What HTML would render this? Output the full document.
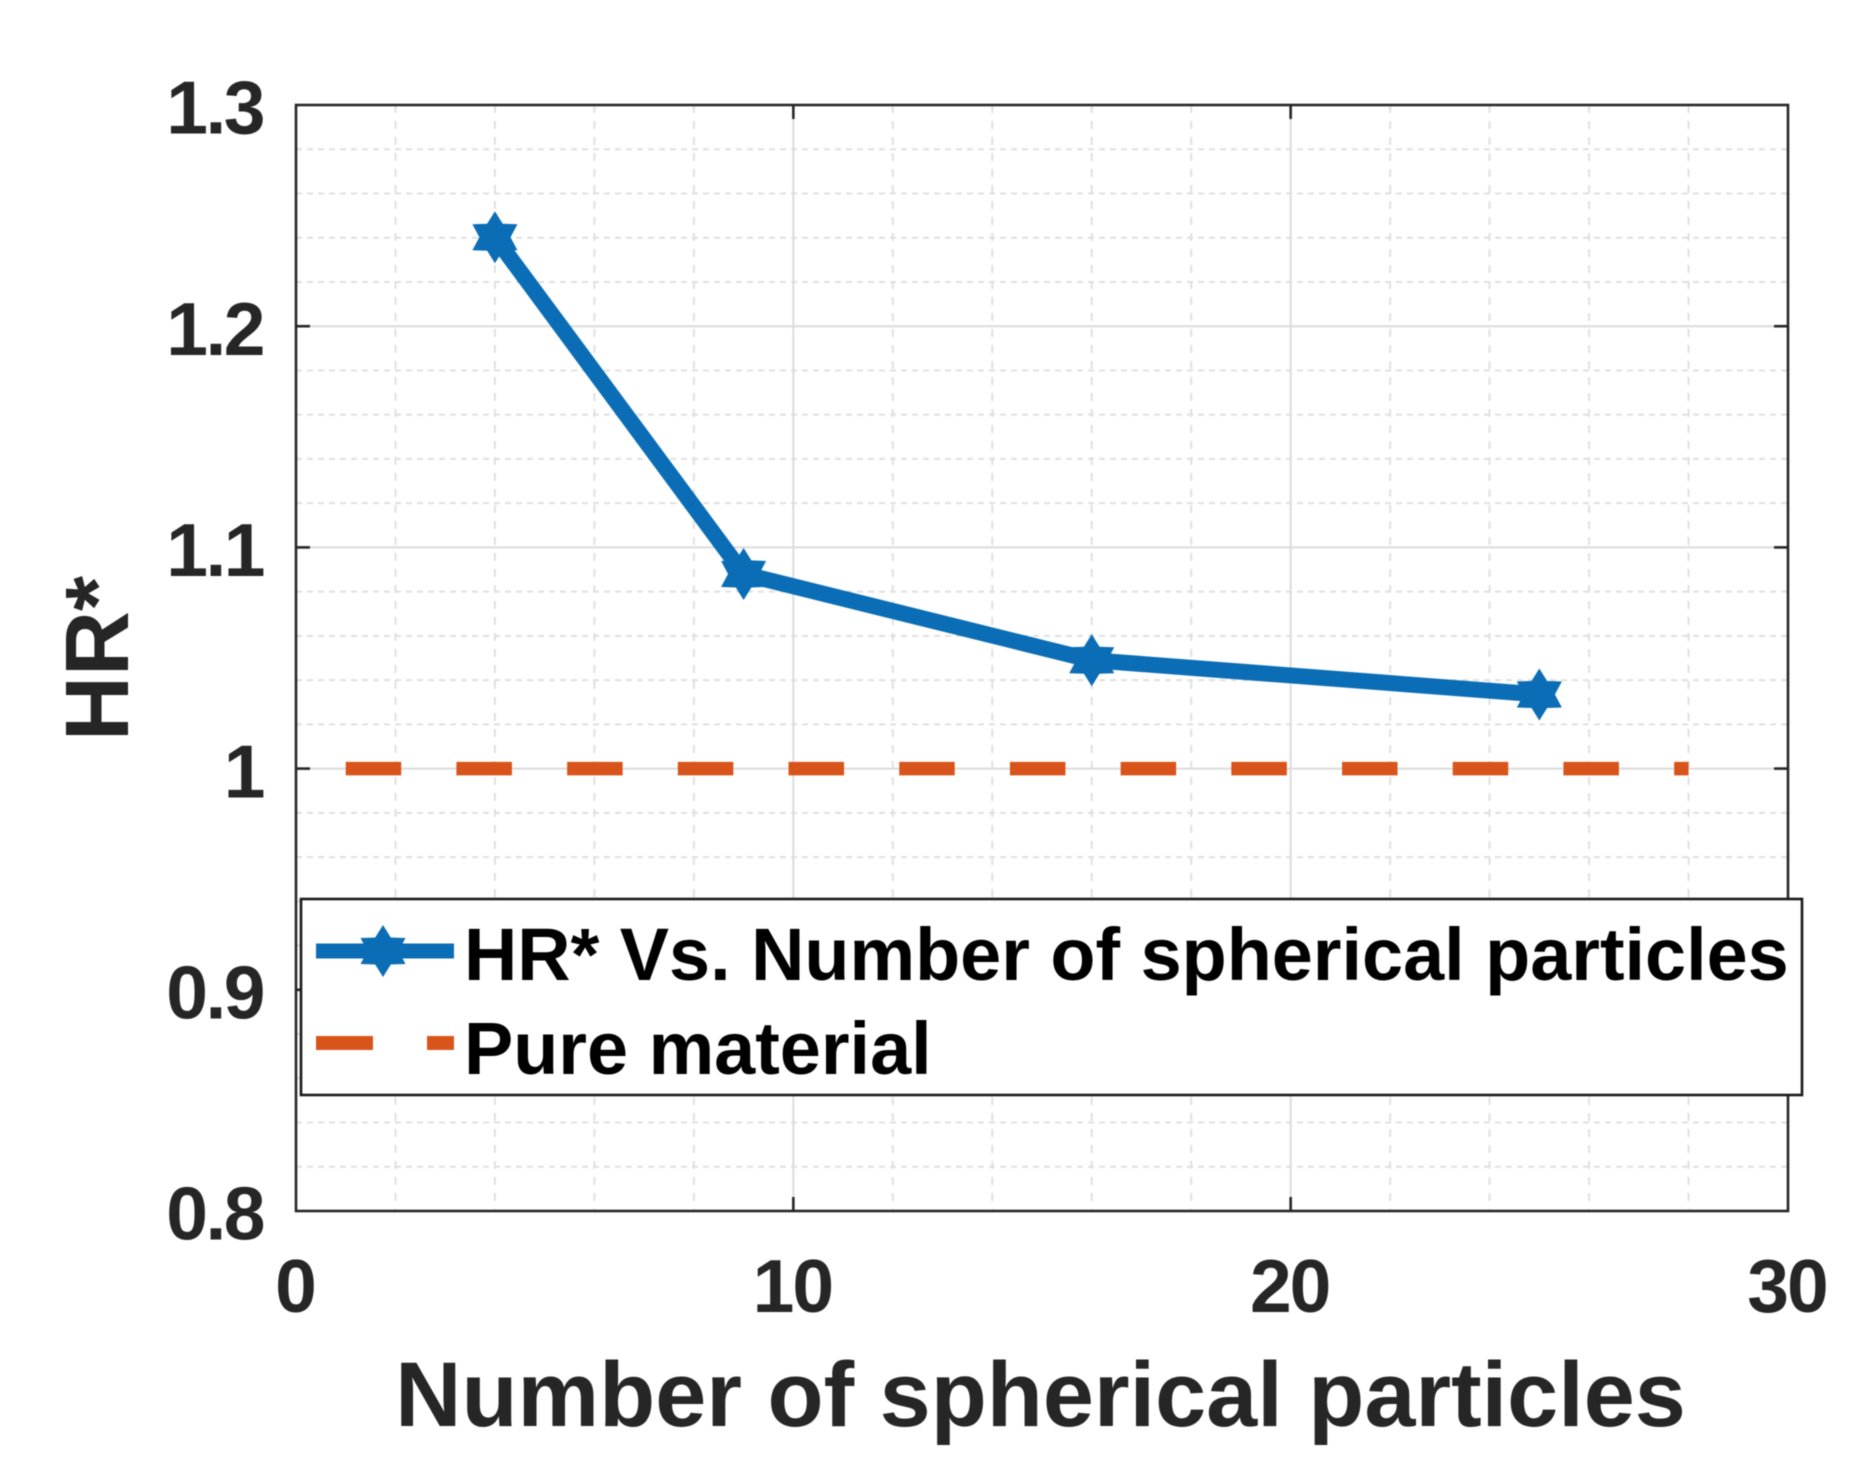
<!DOCTYPE html>
<html lang="en">
<head>
<meta charset="utf-8">
<title>HR* vs number of spherical particles</title>
<style>
html,body{margin:0;padding:0;background:#fff;}
svg{display:block;font-family:"Liberation Sans",Arial,sans-serif;font-weight:bold;filter:blur(0.5px);}
</style>
</head>
<body>
<svg id="chart" xmlns="http://www.w3.org/2000/svg" width="1866" height="1479" viewBox="0 0 1866 1479">
  <rect x="0" y="0" width="1866" height="1479" fill="#ffffff"/>
  <g id="grid"></g>
  <g id="series"></g>
  <g id="frame"></g>
  <g id="labels"></g>
  <text x="1040.5" y="1426" font-size="91.8" fill="#262626" text-anchor="middle">Number of spherical particles</text>
  <text transform="translate(128,658.5) rotate(-90)" font-size="90" fill="#262626" text-anchor="middle">HR*</text>
  <g id="legend"></g>
</svg>
<script>
const particleCounts = [4, 9, 16, 25];
const hrValues = [1.2402, 1.088, 1.049, 1.0335];
const pureX = [1, 28];
const pureY = [1, 1];
const xTickValues = [0, 10, 20, 30];
const xTickLabels = ["0", "10", "20", "30"];
const yTickValues = [0.8, 0.9, 1.0, 1.1, 1.2, 1.3];
const yTickLabels = ["0.8", "0.9", "1", "1.1", "1.2", "1.3"];
const xMinorValues = [2, 4, 6, 8, 12, 14, 16, 18, 22, 24, 26, 28];
const yMinorValues = [0.82, 0.84, 0.86, 0.88, 0.92, 0.94, 0.96, 0.98, 1.02, 1.04, 1.06, 1.08, 1.12, 1.14, 1.16, 1.18, 1.22, 1.24, 1.26, 1.28];
const legendLabels = ["HR* Vs. Number of spherical particles", "Pure material"];

const plot = {left: 296, right: 1788, top: 105, bottom: 1211};
const xDomain = [0, 30];
const yDomain = [0.8, 1.3];
const BLUE = "#0a6db5";
const ORANGE = "#d8541a";
const INK = "#262626";
const NS = "http://www.w3.org/2000/svg";

function xScale(v) {
  return plot.left + (v - xDomain[0]) / (xDomain[1] - xDomain[0]) * (plot.right - plot.left);
}
function yScale(v) {
  return plot.bottom - (v - yDomain[0]) / (yDomain[1] - yDomain[0]) * (plot.bottom - plot.top);
}
function make(tag, attrs, parent) {
  const el = document.createElementNS(NS, tag);
  for (const k in attrs) el.setAttribute(k, attrs[k]);
  parent.appendChild(el);
  return el;
}
function hexagramPoints(cx, cy, r) {
  const inner = r * 0.6;
  const pts = [];
  for (let i = 0; i < 12; i++) {
    const rad = i % 2 === 0 ? r : inner;
    const a = Math.PI / 6 * i - Math.PI / 2;
    pts.push((cx + rad * Math.cos(a)).toFixed(2) + "," + (cy + rad * Math.sin(a)).toFixed(2));
  }
  return pts.join(" ");
}

const grid = document.getElementById("grid");
const series = document.getElementById("series");
const frame = document.getElementById("frame");
const labels = document.getElementById("labels");
const legend = document.getElementById("legend");

xMinorValues.forEach(function (v) {
  const el = make("line", {x1: xScale(v), x2: xScale(v), y1: plot.top, y2: plot.bottom, stroke: "#e0e0e0", "stroke-width": 2, "stroke-dasharray": "8 8"}, grid);
  
  
});
yMinorValues.forEach(function (v) {
  const el = make("line", {x1: plot.left, x2: plot.right, y1: yScale(v), y2: yScale(v), stroke: "#e0e0e0", "stroke-width": 2, "stroke-dasharray": "6 5"}, grid);
  
  
});
xTickValues.forEach(function (v) {
  const el = make("line", {x1: xScale(v), x2: xScale(v), y1: plot.top, y2: plot.bottom, stroke: "#dcdcdc", "stroke-width": 2}, grid);
  
  
});
yTickValues.forEach(function (v) {
  const el = make("line", {x1: plot.left, x2: plot.right, y1: yScale(v), y2: yScale(v), stroke: "#dcdcdc", "stroke-width": 2}, grid);
  
  
});

const pureLine = make("line", {x1: xScale(pureX[0]), y1: yScale(pureY[0]), x2: xScale(pureX[1]), y2: yScale(pureY[1]), stroke: ORANGE, "stroke-width": 13.5, "stroke-dasharray": "55.5 55.2"}, series);



const hrLine = make("polyline", {points: particleCounts.map(function (c, i) { return xScale(c) + "," + yScale(hrValues[i]); }).join(" "), fill: "none", stroke: BLUE, "stroke-width": 16, "stroke-linejoin": "miter"}, series);



particleCounts.forEach(function (c, i) {
  const el = make("polygon", {points: hexagramPoints(xScale(c), yScale(hrValues[i]), 26), fill: BLUE}, series);
  
  
});

const box = make("rect", {x: plot.left, y: plot.top, width: plot.right - plot.left, height: plot.bottom - plot.top, fill: "none", stroke: INK, "stroke-width": 2.6}, frame);



xTickValues.forEach(function (v, i) {
  if (i > 0 && i < xTickValues.length - 1) {
    const bottomTick = make("line", {x1: xScale(v), x2: xScale(v), y1: plot.bottom, y2: plot.bottom - 14, stroke: INK, "stroke-width": 2.6}, frame);
    
    
    const topTick = make("line", {x1: xScale(v), x2: xScale(v), y1: plot.top, y2: plot.top + 14, stroke: INK, "stroke-width": 2.6}, frame);
    
    
  }
  const t = make("text", {x: xScale(v) - 1, y: 1312, "font-size": 75, fill: INK, "text-anchor": "middle", "letter-spacing": "-2"}, labels);
  t.textContent = xTickLabels[i];
  
  
});
yTickValues.forEach(function (v, i) {
  if (i > 0 && i < yTickValues.length - 1) {
    const leftTick = make("line", {x1: plot.left, x2: plot.left + 14, y1: yScale(v), y2: yScale(v), stroke: INK, "stroke-width": 2.6}, frame);
    
    
    const rightTick = make("line", {x1: plot.right, x2: plot.right - 14, y1: yScale(v), y2: yScale(v), stroke: INK, "stroke-width": 2.6}, frame);
    
    
  }
  const t = make("text", {x: 263, y: yScale(v) + 28.7, "font-size": 75, fill: INK, "text-anchor": "end", "letter-spacing": "-2.5"}, labels);
  t.textContent = yTickLabels[i];
  
  
});

const legendBox = make("rect", {x: 301, y: 899, width: 1501, height: 196, fill: "#ffffff", stroke: "#1a1a1a", "stroke-width": 2.6}, legend);



const legendHrLine = make("line", {x1: 316, x2: 454, y1: 951, y2: 951, stroke: BLUE, "stroke-width": 15}, legend);



const legendHrMarker = make("polygon", {points: hexagramPoints(383, 951, 26), fill: BLUE}, legend);



const legendPureLine = make("line", {x1: 316, x2: 454, y1: 1043, y2: 1043, stroke: ORANGE, "stroke-width": 14, "stroke-dasharray": "57 54"}, legend);



legendLabels.forEach(function (label, i) {
  const t = make("text", {x: 464, y: i === 0 ? 980 : 1074, "font-size": 73.8, fill: "#000000"}, legend);
  t.textContent = label;
  
  
});
</script>
</body>
</html>
